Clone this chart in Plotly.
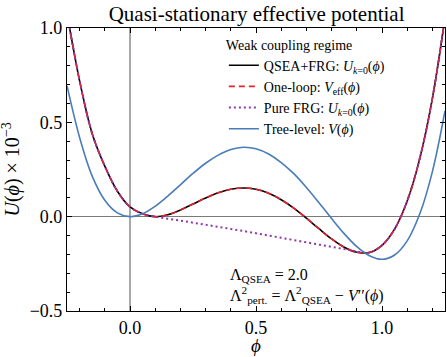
import plotly.graph_objects as go

# --- data ---
phi = [-0.25, -0.20, -0.15, -0.10, -0.05, 0.00, 0.05, 0.10, 0.15, 0.20,
       0.25, 0.30, 0.35, 0.40, 0.45, 0.50, 0.55, 0.60, 0.65, 0.70,
       0.75, 0.80, 0.85, 0.90, 0.95, 1.00, 1.05, 1.10, 1.15, 1.20, 1.25]

u_qsea_frg = [1.08, 0.72, 0.44, 0.268, 0.135, 0.052, 0.015, 0.0, 0.010, 0.035,
              0.067, 0.099, 0.127, 0.145, 0.152, 0.145, 0.124, 0.090, 0.045, -0.008,
              -0.064, -0.118, -0.162, -0.189, -0.190, -0.152, -0.066, 0.083, 0.309, 0.627, 1.055]

v_one_loop = [1.08, 0.72, 0.44, 0.268, 0.135, 0.052, 0.015, 0.0, 0.010, 0.035,
              0.067, 0.099, 0.127, 0.145, 0.152, 0.145, 0.124, 0.090, 0.045, -0.008,
              -0.064, -0.118, -0.162, -0.189, -0.190, -0.152, -0.066, 0.083, 0.309, 0.627, 1.055]

u_pure_frg = [1.08, 0.72, 0.44, 0.268, 0.135, 0.052, 0.015, 0.0, -0.011, -0.021,
              -0.032, -0.043, -0.054, -0.065, -0.076, -0.088, -0.100, -0.112, -0.124, -0.136,
              -0.148, -0.160, -0.172, -0.184, -0.190, -0.152, -0.066, 0.083, 0.309, 0.627, 1.055]

v_tree = [0.694, 0.42, 0.215, 0.087, 0.020, 0.0, 0.015, 0.055, 0.109, 0.169,
          0.229, 0.283, 0.326, 0.356, 0.368, 0.360, 0.332, 0.287, 0.228, 0.155,
          0.074, -0.010, -0.090, -0.159, -0.207, -0.226, -0.203, -0.128, 0.015, 0.239, 0.56]

x_ticks = [0.0, 0.5, 1.0]
y_ticks = [-0.5, 0.0, 0.5, 1.0]

names = ["QSEA+FRG: <i>U</i><sub><i>k</i>=0</sub>(<i>ϕ</i>)",
         "One-loop: <i>V</i><sub>eff</sub>(<i>ϕ</i>)",
         "Pure FRG: <i>U</i><sub><i>k</i>=0</sub>(<i>ϕ</i>)",
         "Tree-level: <i>V</i>(<i>ϕ</i>)"]

FONT = "Liberation Serif"

fig = go.Figure()
fig.add_trace(go.Scatter(x=phi, y=u_qsea_frg, mode="lines", name=names[0],
                         line=dict(color="black", width=1.6, shape="spline")))
fig.add_trace(go.Scatter(x=phi, y=v_one_loop, mode="lines", name=names[1],
                         line=dict(color="#e8222a", width=1.6, dash="6px,4px", shape="spline")))
fig.add_trace(go.Scatter(x=phi, y=u_pure_frg, mode="lines", name=names[2],
                         line=dict(color="#9038a8", width=2.0, dash="2px,3px", shape="spline")))
fig.add_trace(go.Scatter(x=phi, y=v_tree, mode="lines", name=names[3],
                         line=dict(color="#4a7cb8", width=1.6, shape="spline")))

axis_common = dict(showline=True, linecolor="black", linewidth=1.2, mirror="ticks",
                   ticks="inside", ticklen=5, tickwidth=1, tickcolor="black",
                   showgrid=False, automargin=False,
                   minor=dict(ticks="inside", ticklen=2.5, tickwidth=0.8, tickcolor="black", dtick=0.1),
                   tickfont=dict(family=FONT, size=18, color="black"),
                   tickformat=".1f")

fig.update_xaxes(range=[-0.25, 1.25], tickvals=x_ticks, zeroline=True,
                 zerolinecolor="#a8a8a8", zerolinewidth=1.5, **axis_common)
fig.update_yaxes(range=[-0.5, 1.0], tickvals=y_ticks, zeroline=True,
                 zerolinecolor="#7a7a7a", zerolinewidth=1, **axis_common)

fig.update_layout(
    width=447, height=357,
    margin=dict(l=67, r=2, t=28, b=46),
    paper_bgcolor="white", plot_bgcolor="white",
    font=dict(family=FONT, color="black"),
    title=dict(text="Quasi-stationary effective potential", x=0.574, xanchor="center",
               y=0.962, yanchor="middle", font=dict(family=FONT, size=21, color="black")),
    showlegend=True,
    legend=dict(x=0.415, y=0.988, xanchor="left", yanchor="top",
                bgcolor="rgba(0,0,0,0)", borderwidth=0,
                font=dict(family=FONT, size=14, color="black"),
                title=dict(text="Weak coupling regime", font=dict(family=FONT, size=14, color="black")),
                tracegroupgap=0, itemwidth=30),
    annotations=[
        dict(text="<i>ϕ</i>", x=0.5, y=-0.1625, xref="paper", yref="paper",
             xanchor="center", yanchor="bottom", showarrow=False, borderpad=0,
             font=dict(family=FONT, size=19, color="black")),
        dict(text="<i>U</i>(<i>ϕ</i>) × 10<sup>−3</sup>", x=-0.148, y=0.5,
             xref="paper", yref="paper", textangle=-90,
             xanchor="center", yanchor="middle", showarrow=False,
             font=dict(family=FONT, size=20, color="black")),
        dict(text="Λ<sub>QSEA</sub> = 2.0", x=0.427, y=0.127, xref="paper", yref="paper",
             xanchor="left", yanchor="middle", showarrow=False,
             font=dict(family=FONT, size=16, color="black")),
        dict(text="Λ<sup>2</sup><sub>pert.</sub> = Λ<sup>2</sup><sub>QSEA</sub> − <i>V</i>′′(<i>ϕ</i>)",
             x=0.427, y=0.058, xref="paper", yref="paper",
             xanchor="left", yanchor="middle", showarrow=False,
             font=dict(family=FONT, size=16, color="black")),
    ],
)

fig.write_html("out.html", config={"displayModeBar": False},
               post_script="document.body.style.margin='0';document.body.style.padding='0';"
                           "document.body.style.overflow='hidden';")
